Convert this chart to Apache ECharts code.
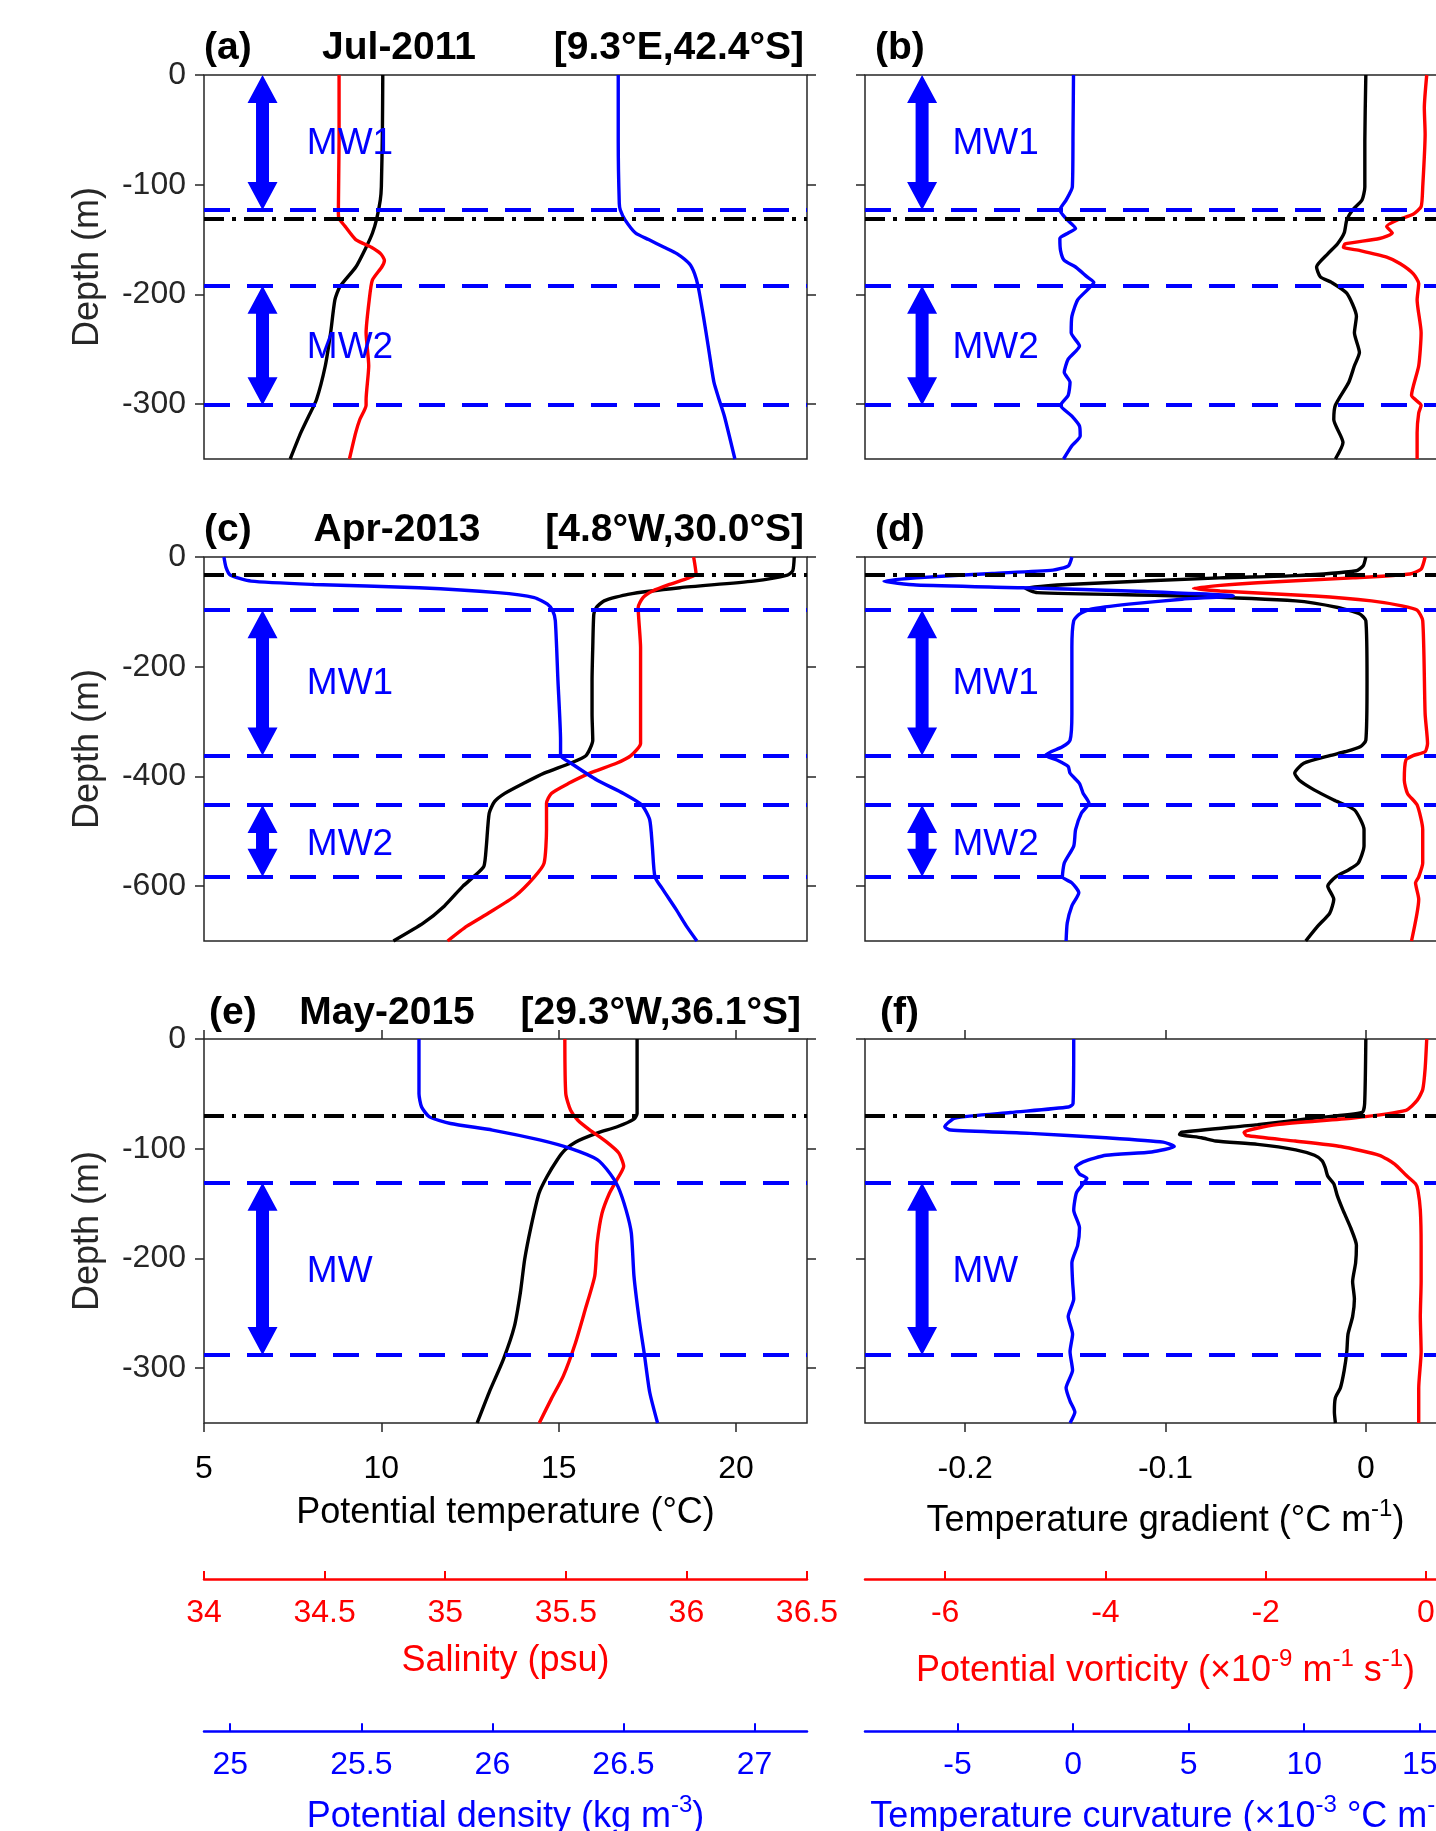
<!DOCTYPE html>
<html>
<head>
<meta charset="utf-8">
<script src="https://cdn.jsdelivr.net/npm/echarts@6/dist/echarts.min.js"></script>
<style>
  html, body { margin: 0; padding: 0; overflow: hidden; background: #fff; }
  #chart { width: 1500px; height: 1831px; }
</style>
</head>
<body>
<div id="chart"></div>
<script>
// ---- profiles: [value, depth (m)] ----
// (a) Jul-2011
const aTemp = [[10.04,0],[10.03,-50],[10.0,-102],[9.97,-114],[9.87,-131],[9.75,-144],[9.57,-157],[9.28,-175],[8.83,-193],[8.69,-205],[8.57,-235],[8.42,-265],[8.17,-296],[7.95,-311],[7.73,-326],[7.43,-350]];
const aSal = [[34.56,0],[34.56,-60],[34.557,-126],[34.56,-131],[34.585,-138],[34.629,-150],[34.694,-157],[34.733,-163],[34.748,-169],[34.737,-175],[34.698,-187],[34.685,-205],[34.672,-235],[34.683,-265],[34.672,-296],[34.672,-301],[34.646,-314],[34.629,-326],[34.603,-350]];
const aDens = [[26.48,0],[26.48,-60],[26.484,-117],[26.488,-123],[26.506,-132],[26.546,-144],[26.596,-150],[26.655,-157],[26.705,-163],[26.751,-172],[26.771,-181],[26.785,-193],[26.805,-220],[26.825,-250],[26.845,-280],[26.865,-296],[26.885,-311],[26.925,-350]];
// (b)
const bGrad = [[0,0],[-0.0005,-60],[-0.0005,-102],[-0.0019,-114],[-0.0066,-123],[-0.0095,-132],[-0.0108,-144],[-0.0142,-154],[-0.019,-163],[-0.0246,-175],[-0.0227,-184],[-0.0171,-189],[-0.0095,-199],[-0.0047,-220],[-0.0057,-235],[-0.0032,-253],[-0.0057,-265],[-0.0085,-280],[-0.0152,-301],[-0.016,-314],[-0.0114,-335],[-0.0152,-350]];
const bPv = [[0.01,0],[-0.02,-30],[-0.01,-54],[-0.04,-102],[-0.06,-120],[-0.16,-127],[-0.35,-132],[-0.49,-138],[-0.42,-144],[-0.58,-149],[-1.01,-154],[-1.03,-157],[-0.82,-160],[-0.49,-166],[-0.32,-172],[-0.16,-181],[-0.09,-190],[-0.11,-205],[-0.06,-235],[-0.09,-265],[-0.18,-292],[-0.06,-301],[-0.09,-308],[-0.11,-326],[-0.11,-350]];
const bCurv = [[0.02,0],[0,-50],[-0.03,-102],[-0.3,-114],[-0.57,-123],[-0.3,-131],[0.11,-140],[-0.21,-144],[-0.57,-149],[-0.54,-160],[-0.38,-169],[0.11,-175],[0.61,-184],[0.9,-189],[0.61,-196],[0.2,-205],[-0.05,-220],[-0.08,-235],[0.28,-247],[-0.21,-259],[-0.38,-271],[-0.13,-280],[-0.21,-292],[-0.54,-301],[-0.05,-311],[0.28,-320],[0.31,-329],[-0.05,-338],[-0.41,-350]];
// (c) Apr-2013
const cTemp = [[21.64,0],[21.6,-25],[21.45,-33],[20.49,-44],[18.42,-56],[16.95,-68],[16.28,-80],[16.06,-92],[15.99,-104],[15.96,-165],[15.94,-225],[15.94,-286],[15.96,-334],[15.77,-362],[15.32,-376],[14.59,-394],[14.0,-413],[13.48,-431],[13.19,-446],[13.04,-467],[12.96,-527],[12.89,-564],[12.6,-583],[12.3,-600],[11.78,-636],[11.19,-667],[10.34,-700]];
const cSal = [[36.03,0],[36.04,-31],[36.01,-38],[35.93,-50],[35.86,-62],[35.82,-74],[35.8,-92],[35.81,-165],[35.81,-286],[35.81,-340],[35.77,-362],[35.71,-376],[35.6,-394],[35.51,-413],[35.44,-431],[35.42,-449],[35.42,-497],[35.41,-558],[35.37,-583],[35.29,-618],[35.18,-649],[35.09,-673],[35.01,-700]];
const cDens = [[24.976,0],[24.984,-19],[25.0,-33],[25.08,-44],[25.32,-50],[25.72,-56],[26.02,-65],[26.16,-74],[26.21,-86],[26.23,-98],[26.24,-116],[26.25,-225],[26.26,-334],[26.26,-362],[26.3,-376],[26.4,-407],[26.5,-431],[26.57,-452],[26.6,-479],[26.61,-527],[26.62,-583],[26.65,-606],[26.7,-642],[26.74,-673],[26.78,-700]];
// (d)
const dGrad = [[0,0],[-0.0013,-16],[-0.0047,-25],[-0.035,-34],[-0.073,-38],[-0.149,-50],[-0.17,-57],[-0.164,-65],[-0.092,-71],[-0.035,-80],[-0.014,-92],[-0.003,-104],[0,-116],[0.0006,-225],[0,-334],[-0.0028,-346],[-0.0104,-355],[-0.018,-362],[-0.031,-376],[-0.0355,-394],[-0.0332,-407],[-0.0256,-425],[-0.016,-443],[-0.0057,-461],[-0.0009,-497],[-0.0009,-527],[-0.0038,-558],[-0.0085,-570],[-0.015,-583],[-0.019,-600],[-0.016,-624],[-0.018,-649],[-0.024,-673],[-0.03,-700]];
const dPv = [[-0.01,0],[-0.06,-22],[-0.2,-31],[-0.91,-38],[-2.1,-47],[-2.9,-57],[-2.57,-62],[-1.39,-71],[-0.68,-80],[-0.3,-89],[-0.11,-97],[-0.04,-116],[-0.01,-286],[0.02,-340],[-0.01,-355],[-0.16,-362],[-0.25,-370],[-0.27,-407],[-0.23,-431],[-0.11,-452],[-0.04,-497],[-0.04,-558],[-0.09,-583],[-0.13,-594],[-0.09,-624],[-0.18,-700]];
const dCurv = [[-0.05,0],[-0.2,-16],[-0.87,-24],[-3.5,-30],[-6.78,-38],[-8.18,-44],[-6.78,-51],[-2.18,-56],[3.07,-63],[6.93,-71],[4.71,-77],[2.41,-86],[0.77,-95],[0.28,-104],[0.03,-116],[-0.05,-165],[-0.05,-286],[-0.13,-334],[-0.46,-346],[-0.95,-355],[-1.2,-362],[-0.7,-370],[-0.21,-382],[-0.13,-394],[0.28,-413],[0.44,-431],[0.69,-449],[0.36,-467],[0.11,-497],[0.03,-527],[-0.38,-558],[-0.46,-583],[-0.05,-594],[0.25,-612],[-0.05,-636],[-0.25,-667],[-0.3,-700]];
// (e) May-2015
const eTemp = [[17.21,0],[17.21,-68],[17.12,-73],[16.65,-80],[16.06,-86],[15.47,-94],[15.18,-101],[14.96,-110],[14.66,-126],[14.44,-141],[14.22,-171],[14.04,-201],[13.92,-231],[13.75,-262],[13.44,-292],[13.04,-322],[12.7,-350]];
const eSal = [[35.496,0],[35.5,-50],[35.52,-65],[35.55,-74],[35.6,-83],[35.67,-94],[35.72,-104],[35.74,-116],[35.71,-129],[35.68,-141],[35.65,-159],[35.63,-186],[35.62,-216],[35.58,-247],[35.54,-277],[35.49,-307],[35.44,-328],[35.39,-350]];
const eDens = [[25.72,0],[25.72,-50],[25.73,-62],[25.76,-71],[25.84,-77],[26.0,-83],[26.18,-92],[26.3,-100],[26.4,-110],[26.45,-123],[26.48,-135],[26.51,-156],[26.53,-177],[26.54,-216],[26.56,-256],[26.58,-288],[26.6,-322],[26.63,-350]];
// (f)
const fGrad = [[0,0],[-0.0006,-59],[-0.0019,-67],[-0.0256,-72],[-0.054,-78],[-0.092,-85],[-0.093,-87],[-0.082,-90],[-0.075,-93],[-0.054,-96],[-0.035,-101],[-0.0256,-106],[-0.0218,-111],[-0.0203,-117],[-0.019,-125],[-0.016,-132],[-0.0142,-143],[-0.0114,-156],[-0.0076,-172],[-0.0047,-188],[-0.0051,-204],[-0.0066,-221],[-0.0057,-237],[-0.0066,-253],[-0.0089,-269],[-0.0095,-285],[-0.0108,-302],[-0.0127,-318],[-0.0152,-327],[-0.0157,-340],[-0.0152,-350]];
const fPv = [[0.01,0],[-0.01,-27],[-0.04,-46],[-0.11,-56],[-0.25,-65],[-0.91,-72],[-1.86,-78],[-2.27,-85],[-2.24,-88],[-1.63,-93],[-1.06,-98],[-0.58,-106],[-0.39,-114],[-0.25,-124],[-0.13,-132],[-0.1,-138],[-0.07,-156],[-0.06,-188],[-0.06,-221],[-0.07,-253],[-0.06,-285],[-0.09,-318],[-0.09,-350]];
const fCurv = [[0.03,0],[0,-59],[-0.2,-62],[-2.7,-67],[-5.1,-72],[-5.55,-80],[-5.3,-83],[-1.86,-86],[1.43,-90],[3.9,-94],[4.38,-98],[3.4,-103],[1.43,-106],[0.44,-112],[0.11,-117],[0.28,-123],[0.6,-127],[0.44,-132],[0.15,-140],[0.03,-156],[0.28,-172],[0.2,-188],[-0.05,-204],[-0.02,-221],[0.03,-237],[-0.21,-253],[-0.02,-269],[-0.13,-285],[-0.02,-302],[-0.3,-318],[-0.13,-330],[0.08,-340],[-0.13,-350]];

// ---- layer boundaries (m) ----
const aMld = -131, aDashed = [-123, -192, -301], aLayers = [[0, -123], [-192, -301]], aNames = ['MW1', 'MW2'], aNameDepths = [-63, -249];
const cMld = -32, cDashed = [-97, -362, -452, -583], cLayers = [[-97, -362], [-452, -583]], cNames = ['MW1', 'MW2'], cNameDepths = [-232, -524];
const eMld = -70, eDashed = [-131, -288], eLayers = [[-131, -288]], eNames = ['MW'], eNameDepths = [-212];

// ---- ticks ----
const tempTicks = [5, 10, 15, 20];
const salTicks = [34, 34.5, 35, 35.5, 36, 36.5];
const densTicks = [25, 25.5, 26, 26.5, 27];
const gradTicks = [-0.2, -0.1, 0];
const pvTicks = [-6, -4, -2, 0];
const curvTicks = [-5, 0, 5, 10, 15];
const depthTicksShallow = [0, -100, -200, -300];
const depthTicksDeep = [0, -200, -400, -600];

const panelLetters = ['(a)', '(b)', '(c)', '(d)', '(e)', '(f)'];
const panelDates = ['Jul-2011', 'Apr-2013', 'May-2015'];
const panelPlaces = ['[9.3°E,42.4°S]', '[4.8°W,30.0°S]', '[29.3°W,36.1°S]'];

// ---- layout / style ----
const FONT = '"Liberation Sans", Arial, Helvetica, sans-serif';
const AXIS = '#262626', BLUE = '#0000ff', RED = '#ff0000', BLACK = '#000000';
const colL = { left: 204, width: 603 }, colR = { left: 865, width: 601 };
const rowTops = [75, 557, 1039], plotH = 384;
const rangesL = [[5, 22], [34, 36.5], [24.9, 27.2]];
const rangesR = [[-0.25, 0.05], [-7, 0.5], [-9, 17]];

const rows = [
  { depth: -350, yTicks: depthTicksShallow, mld: aMld, dashed: aDashed, layers: aLayers, names: aNames, nameDepths: aNameDepths, L: [aTemp, aSal, aDens], R: [bGrad, bPv, bCurv] },
  { depth: -700, yTicks: depthTicksDeep, mld: cMld, dashed: cDashed, layers: cLayers, names: cNames, nameDepths: cNameDepths, L: [cTemp, cSal, cDens], R: [dGrad, dPv, dCurv] },
  { depth: -350, yTicks: depthTicksShallow, mld: eMld, dashed: eDashed, layers: eLayers, names: eNames, nameDepths: eNameDepths, L: [eTemp, eSal, eDens], R: [fGrad, fPv, fCurv] }
];

function arrowItem(params, api) {
  const a = api.coord([api.value(0), api.value(1)]);
  const b = api.coord([api.value(0), api.value(2)]);
  const x = a[0], y1 = a[1], y2 = b[1];
  const hw = 15, hl = 28, sw = 6.5;
  return {
    type: 'polygon',
    shape: { points: [[x, y1], [x + hw, y1 + hl], [x + sw, y1 + hl], [x + sw, y2 - hl], [x + hw, y2 - hl],
      [x, y2], [x - hw, y2 - hl], [x - sw, y2 - hl], [x - sw, y1 + hl], [x - hw, y1 + hl]] },
    style: { fill: BLUE }
  };
}

const grids = [], xAxes = [], yAxes = [], series = [], graphic = [];
const curveColors = [BLACK, RED, BLUE];
const tickStyle = { lineStyle: { color: AXIS, width: 1.5 }, length: 9 };
const sup = { fontSize: 24, padding: [0, 0, 24, 0], fontFamily: FONT };

rows.forEach((row, r) => {
  ['L', 'R'].forEach((side) => {
    const g = grids.length;
    const col = side === 'L' ? colL : colR;
    const ranges = side === 'L' ? rangesL : rangesR;
    const bottom = r === 2;
    grids.push({ left: col.left, width: col.width, top: rowTops[r], height: plotH, show: true, borderColor: AXIS, borderWidth: 1.5 });

    ranges.forEach((rg, k) => {
      const ax = { type: 'value', gridIndex: g, min: rg[0], max: rg[1], position: 'bottom', show: false,
        splitLine: { show: false }, axisLine: { show: false, onZero: false } };
      if (k === 0 && bottom) {
        const ticks = side === 'L' ? tempTicks : gradTicks;
        Object.assign(ax, {
          show: true,
          axisTick: Object.assign({ customValues: ticks }, tickStyle),
          axisLabel: { customValues: ticks, fontSize: 32, color: BLACK, margin: 30, fontFamily: FONT },
          name: side === 'L' ? 'Potential temperature (°C)' : 'Temperature gradient (°C m{sup|-1})',
          nameLocation: 'middle', nameGap: side === 'L' ? 72 : 74,
          nameTextStyle: { fontSize: 36, color: BLACK, fontFamily: FONT, rich: { sup: sup } }
        });
      }
      xAxes.push(ax);
    });

    yAxes.push({
      type: 'value', gridIndex: g, min: row.depth, max: 0, position: 'left',
      splitLine: { show: false }, axisLine: { show: false, onZero: false },
      axisTick: Object.assign({ customValues: row.yTicks }, tickStyle),
      axisLabel: { show: side === 'L', customValues: row.yTicks, fontSize: 32, color: AXIS, margin: 18, fontFamily: FONT },
      name: side === 'L' ? 'Depth (m)' : '', nameLocation: 'middle', nameRotate: 90, nameGap: 98,
      nameTextStyle: { fontSize: 36, color: AXIS, fontFamily: FONT }
    });
    yAxes.push({
      type: 'value', gridIndex: g, min: row.depth, max: 0, position: 'right',
      splitLine: { show: false }, axisLine: { show: false, onZero: false },
      axisTick: Object.assign({ customValues: row.yTicks }, tickStyle),
      axisLabel: { show: false }
    });

    const curves = row[side];
    curves.forEach((d, k) => {
      const s = {
        type: 'line', xAxisIndex: 3 * g + k, yAxisIndex: 2 * g, data: d,
        showSymbol: false, smooth: 0.2, silent: true, z: 2,
        lineStyle: { color: curveColors[k], width: 3.4 }
      };
      if (k === 0) {
        s.markLine = {
          silent: true, symbol: ['none', 'none'], label: { show: false }, animation: false,
          data: row.dashed.map(v => ({ yAxis: v, lineStyle: { color: BLUE, width: 4, type: [26, 17] } }))
            .concat([{ yAxis: row.mld, lineStyle: { color: BLACK, width: 4, type: [20, 8, 4, 8] } }])
        };
      }
      series.push(s);
    });

    const arrowX = side === 'L' ? 6.65 : -0.2215;
    const textX = side === 'L' ? 7.9 : -0.2063;
    series.push({
      type: 'custom', xAxisIndex: 3 * g, yAxisIndex: 2 * g, silent: true, z: 6,
      renderItem: arrowItem, encode: { x: 0, y: [1, 2] },
      data: row.layers.map(l => [arrowX, l[0], l[1]])
    });
    series.push({
      type: 'custom', xAxisIndex: 3 * g, yAxisIndex: 2 * g, silent: true, z: 6,
      renderItem: (params, api) => {
        const pt = api.coord([api.value(0), api.value(1)]);
        return { type: 'text', x: pt[0], y: pt[1],
          style: { text: row.names[params.dataIndex], fill: BLUE, font: '37px ' + FONT, align: 'left', verticalAlign: 'middle' } };
      },
      encode: { x: 0, y: 1 },
      data: row.nameDepths.map(d => [textX, d])
    });
  });
});

// top tick axes of the bottom row
[[4, rangesL[0], tempTicks], [5, rangesR[0], gradTicks]].forEach(([g, rg, ticks]) => {
  xAxes.push({ type: 'value', gridIndex: g, min: rg[0], max: rg[1], position: 'top',
    splitLine: { show: false }, axisLine: { show: false, onZero: false },
    axisTick: Object.assign({ customValues: ticks }, tickStyle), axisLabel: { show: false } });
});

// extra colour axes below the figure
const extra = [
  { col: colL, y: 1579, rg: rangesL[1], ticks: salTicks, color: RED, name: 'Salinity (psu)', gap: 64 },
  { col: colL, y: 1732, rg: rangesL[2], ticks: densTicks, color: BLUE, name: 'Potential density (kg m{sup|-3})', gap: 62 },
  { col: colR, y: 1579, rg: rangesR[1], ticks: pvTicks, color: RED, name: 'Potential vorticity (×10{sup|-9} m{sup|-1} s{sup|-1})', gap: 68 },
  { col: colR, y: 1732, rg: rangesR[2], ticks: curvTicks, color: BLUE, name: 'Temperature curvature (×10{sup|-3} °C m{sup|-2})', gap: 62 }
];
extra.forEach(e => {
  const g = grids.length;
  grids.push({ left: e.col.left, width: e.col.width, top: e.y - 1, height: 1, show: false });
  xAxes.push({
    type: 'value', gridIndex: g, min: e.rg[0], max: e.rg[1], position: 'bottom',
    splitLine: { show: false },
    axisLine: { show: true, onZero: false, lineStyle: { color: e.color, width: 2.5 } },
    axisTick: { show: true, inside: true, length: 8, customValues: e.ticks, lineStyle: { color: e.color, width: 2 } },
    axisLabel: { customValues: e.ticks, fontSize: 32, color: e.color, margin: 18, fontFamily: FONT },
    name: e.name, nameLocation: 'middle', nameGap: e.gap,
    nameTextStyle: { fontSize: 36, color: e.color, fontFamily: FONT, rich: { sup: Object.assign({ color: e.color }, sup) } }
  });
  yAxes.push({ type: 'value', gridIndex: g, show: false, min: 0, max: 1, axisLine: { onZero: false } });
});

// panel titles
const titleY = [48, 530, 1013];
const letterX = [[204, 875], [204, 875], [209, 880]];
const dateX = [399, 397, 387];
const placeX = [804, 804, 801];
titleY.forEach((y, r) => {
  const font = 'bold 39px ' + FONT;
  graphic.push({ type: 'text', x: letterX[r][0], y, style: { text: panelLetters[2 * r], font, fill: BLACK, align: 'left', verticalAlign: 'middle' } });
  graphic.push({ type: 'text', x: dateX[r], y, style: { text: panelDates[r], font, fill: BLACK, align: 'center', verticalAlign: 'middle' } });
  graphic.push({ type: 'text', x: placeX[r], y, style: { text: panelPlaces[r], font, fill: BLACK, align: 'right', verticalAlign: 'middle' } });
  graphic.push({ type: 'text', x: letterX[r][1], y, style: { text: panelLetters[2 * r + 1], font, fill: BLACK, align: 'left', verticalAlign: 'middle' } });
});

const chart = echarts.init(document.getElementById('chart'));
chart.setOption({
  animation: false,
  backgroundColor: '#ffffff',
  textStyle: { fontFamily: FONT },
  grid: grids,
  xAxis: xAxes,
  yAxis: yAxes,
  series: series,
  graphic: graphic
});
</script>
</body>
</html>
